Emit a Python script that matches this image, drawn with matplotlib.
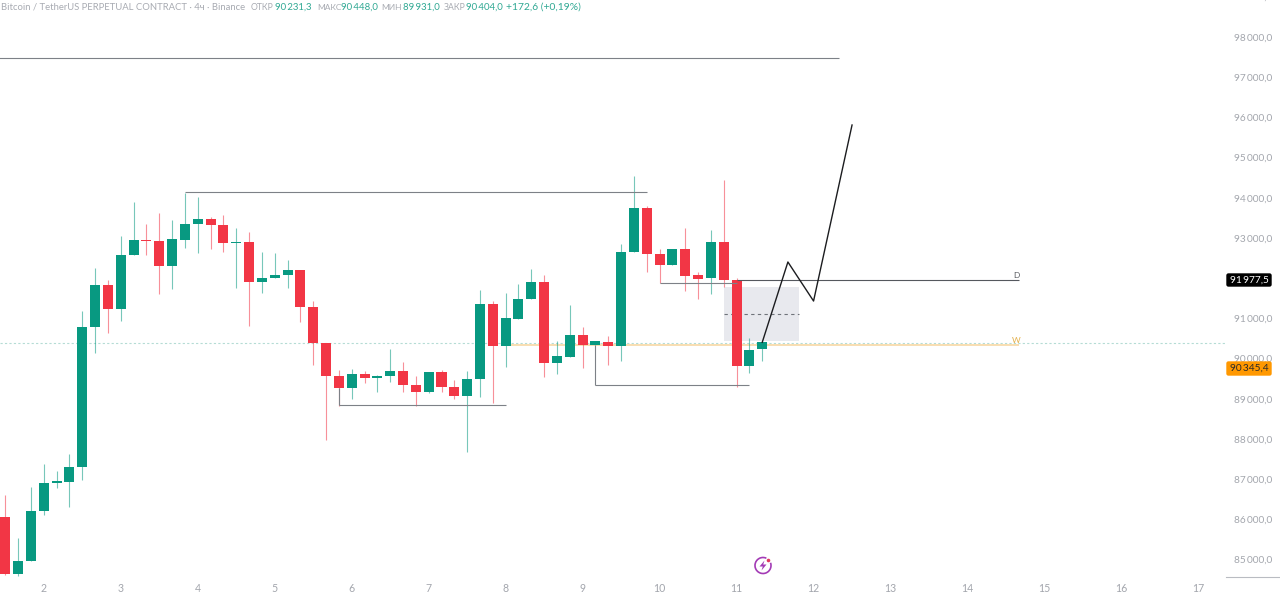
import matplotlib
matplotlib.use('Agg')
import matplotlib.pyplot as plt
from matplotlib.patches import Rectangle, Arc, Circle, Polygon, FancyBboxPatch

####################################
# Data
####################################

opens = [86066, 84631, 84972, 86215, 86912, 86937, 87310, 90785, 91821, 91224,
         92568, 92941, 92924, 92302, 92958, 93356, 93472, 93331, 92866, 92899,
         91913, 91996, 92070, 92195, 91274, 90378, 89558, 89267, 89616, 89516,
         89558, 89690, 89350, 89168, 89657, 89301, 89077, 89483, 91357, 90312,
         90992, 91482, 91896, 89889, 90047, 90586, 90337, 90420, 90321, 92643,
         93746, 92601, 92336, 92717, 92070, 91996, 92891, 91954, 89806, 90231]
highs = [86605, 85527, 86796, 87376, 87211, 87625, 91191, 92244, 91954, 93057,
         93903, 93339, 93629, 93447, 94127, 94011, 93530, 93571, 93256, 93140,
         92659, 92634, 92452, 92195, 91440, 90379, 89715, 89732, 89699, 89591,
         90230, 89923, 89566, 89657, 89715, 89467, 89699, 91706, 91440, 91623,
         91855, 92228, 92079, 90437, 91332, 90793, 90437, 90561, 92850, 94542,
         93804, 92726, 92717, 93256, 92162, 93198, 94442, 91996, 90503, 90448]
lows = [84615, 84598, 84972, 86108, 86771, 86298, 86978, 90130, 90644, 90942,
        92568, 92576, 91606, 91722, 92759, 92618, 92725, 92642, 91747, 90810,
        91622, 91996, 91747, 90917, 89839, 87974, 88828, 88985, 89400, 89176,
        89408, 89176, 88828, 89135, 89176, 88985, 87667, 89052, 88886, 89782,
        90992, 91482, 89533, 89607, 90047, 89757, 90337, 89840, 89947, 92643,
        92162, 91871, 92336, 91681, 91482, 91598, 91788, 89301, 89632, 89931]
closes = [84631, 84972, 86215, 86912, 86945, 87310, 90785, 91821, 91224, 92568,
          92941, 92933, 92302, 92966, 93347, 93472, 93322, 92875, 92899, 91913,
          92012, 92078, 92195, 91274, 90378, 89558, 89267, 89608, 89516, 89566,
          89690, 89342, 89168, 89657, 89301, 89077, 89483, 91357, 90312, 91009,
          91490, 91896, 89889, 90055, 90586, 90337, 90429, 90312, 92643, 93746,
          92601, 92336, 92717, 92054, 91987, 92891, 91954, 89806, 90213, 90404]

# Days on the time axis, first candle of each day
day_labels = [str(d) for d in range(2, 18)]
day_positions = [3 + 6 * i for i in range(16)]

# Price axis, 92 000 sits behind the black price box so it is not shown
price_ticks = [85000, 86000, 87000, 88000, 89000, 90000, 91000, 93000, 94000, 95000, 96000, 97000, 98000]
price_labels = ['{}\u2009000,0'.format(p // 1000) for p in price_ticks]

# Drawn levels: price, start candle, end candle
top_level = [97477, -1, 65]
high_level = [94131, 14, 50]
range_low_level = [88832, 26, 39]
sweep_level = [89354, 46, 58]
sweep_start = 90337
inner_level = [91879, 51, 57]
daily_level = [91954, 57, 79]
weekly_level = [90337, 39.3, 79]
last_close = 90387

# Zone: candles, price low and high, middle line
zone_x = [56.05, 61.9]
zone_prices = [90436, 91780]
zone_mid = 91120

# Projected path
path_x = [59, 61, 63, 66]
path_prices = [90404, 92402, 91431, 95810]

####################################
# Config
####################################

GREEN = '#089981'
RED = '#f23645'
LEVEL = '#7d8187'
AXIS_TEXT = '#a3a6ad'
FONT = 'Lato'
WIDTH, HEIGHT = 1280, 596
AXES_RIGHT, AXES_BOTTOM = 1225, 577

plt.rcParams['font.family'] = [FONT, 'DejaVu Sans']

fig = plt.figure(figsize=(WIDTH / 100, HEIGHT / 100), dpi=100, facecolor='white')
ax = fig.add_axes([0, 1 - AXES_BOTTOM / HEIGHT, AXES_RIGHT / WIDTH, AXES_BOTTOM / HEIGHT])
ax.set_xlim(-0.413, 95.07)
ax.set_ylim(84565, 98920)
ax.set_facecolor('white')

for side in ['top', 'left', 'right', 'bottom']:
    ax.spines[side].set_visible(False)

####################################
# Candles
####################################

candle_x = list(range(len(opens)))
colours = [GREEN if c >= o else RED for o, c in zip(opens, closes)]
bottoms = [min(o, c) for o, c in zip(opens, closes)]
heights = [abs(c - o) for o, c in zip(opens, closes)]

ax.add_patch(Rectangle((zone_x[0], zone_prices[0]), zone_x[1] - zone_x[0],
                       zone_prices[1] - zone_prices[0], color='#e8e9ee', lw=0, zorder=1))
ax.hlines(zone_mid, zone_x[0], zone_x[1], color='#6f737a', lw=0.8, linestyles=(0, (3, 3)), zorder=2)

ax.axhline(last_close, color='#b5dcd5', lw=0.8, ls=(0, (2, 2)), zorder=1)

ax.vlines(candle_x, lows, highs, color=colours, lw=0.8, alpha=0.55, zorder=3)
ax.bar(candle_x, heights, bottom=bottoms, width=0.78, color=colours, lw=0, zorder=4)

####################################
# Levels and path
####################################

for level in [top_level, high_level, range_low_level, sweep_level, inner_level]:
    ax.hlines(level[0], level[1], level[2], color=LEVEL, lw=0.8, zorder=5)
ax.hlines(daily_level[0], daily_level[1], daily_level[2], color='#55585e', lw=0.8, zorder=5)
ax.hlines(weekly_level[0], weekly_level[1], weekly_level[2], color='#f7d59c', lw=1.1, zorder=2)

# Small uprights tying levels to their wicks
ax.vlines(sweep_level[1], sweep_level[0], sweep_start, color=LEVEL, lw=0.8, zorder=5)
ax.vlines(range_low_level[1], range_low_level[0], closes[range_low_level[1]], color=LEVEL, lw=0.8, zorder=3)

ax.plot(path_x, path_prices, color='#1b1c1f', lw=1.0, zorder=6)

ax.text(daily_level[2] - 0.2, daily_level[0] + 30, 'D', fontsize=6, color='#55585e', ha='center', va='bottom')
ax.text(weekly_level[2] - 0.2, weekly_level[0] + 30, 'W', fontsize=6, color='#e3b04b', ha='center', va='bottom')

####################################
# Axes
####################################

ax.set_xticks(day_positions)
ax.set_xticklabels(day_labels)
ax.yaxis.tick_right()
ax.set_yticks(price_ticks)
ax.set_yticklabels(price_labels)
ax.tick_params(axis='x', length=0, pad=4, labelsize=7.6, labelcolor=AXIS_TEXT)
ax.tick_params(axis='y', length=0, pad=6.5, labelsize=7.3, labelcolor=AXIS_TEXT)
ax.text(1 + 9 / AXES_RIGHT, 99000, '99\u2009000,0', fontsize=7.3, color=AXIS_TEXT,
        transform=ax.get_yaxis_transform(), va='center', ha='left', clip_on=False)

####################################
# Overlay in picture pixels: header, price boxes, icon
####################################

ov = fig.add_axes([0, 0, 1, 1], facecolor='none')
ov.set_xlim(0, WIDTH)
ov.set_ylim(HEIGHT, 0)
ov.axis('off')

ov.plot([1226, 1280], [577, 577], color='#b9bcc2', lw=0.8)

HEAD_GREY = '#a8abb2'
HEAD_GREEN = '#2fa893'
header = [(1, 'Bitcoin / TetherUS PERPETUAL CONTRACT · 4ч · Binance', HEAD_GREY, 6.8),
          (251, 'ОТКР', HEAD_GREY, 6.2), (275, '90\u2009231,3', HEAD_GREEN, 6.9),
          (317, 'МАКС', HEAD_GREY, 6.0), (341, '90\u2009448,0', HEAD_GREEN, 6.9),
          (381, 'МИН', HEAD_GREY, 6.0), (403, '89\u2009931,0', HEAD_GREEN, 6.9),
          (444, 'ЗАКР', HEAD_GREY, 6.2), (466, '90\u2009404,0', HEAD_GREEN, 6.9),
          (506, '+172,6 (+0,19%)', HEAD_GREEN, 7.4)]
for x, label, colour, size in header:
    ov.text(x, 7, label, fontsize=size, color=colour, va='center', ha='left')

for y_top, y_bot, face, text_colour, label in [(273, 287, '#000000', 'white', '91\u2009977,5'),
                                               (361, 376, '#ff9800', '#2a2a2a', '90\u2009345,4')]:
    ov.add_patch(FancyBboxPatch((1227, y_top + 1), 44, y_bot - y_top - 2,
                                boxstyle='round,pad=0,rounding_size=1.5', fc=face, ec=face, lw=1, zorder=5))
    ov.text(1249, (y_top + y_bot) / 2, label, fontsize=7.3, color=text_colour,
            ha='center', va='center', zorder=6)

# Lightning icon
ov.add_patch(Arc((763, 565.5), 16, 16, theta1=-20, theta2=295, color='#a33bb5', lw=1.2))
ov.add_patch(Polygon([[764.5, 560.5], [759.5, 566.5], [762.8, 566.5], [761.5, 570.5], [766.5, 564.5], [763.2, 564.5]],
                     closed=True, fc='#a33bb5', ec='none'))
ov.add_patch(Circle((768.5, 560.5), 1.8, fc='#e0365f', ec='none'))

fig.savefig('out.png', dpi=100, facecolor='white')
